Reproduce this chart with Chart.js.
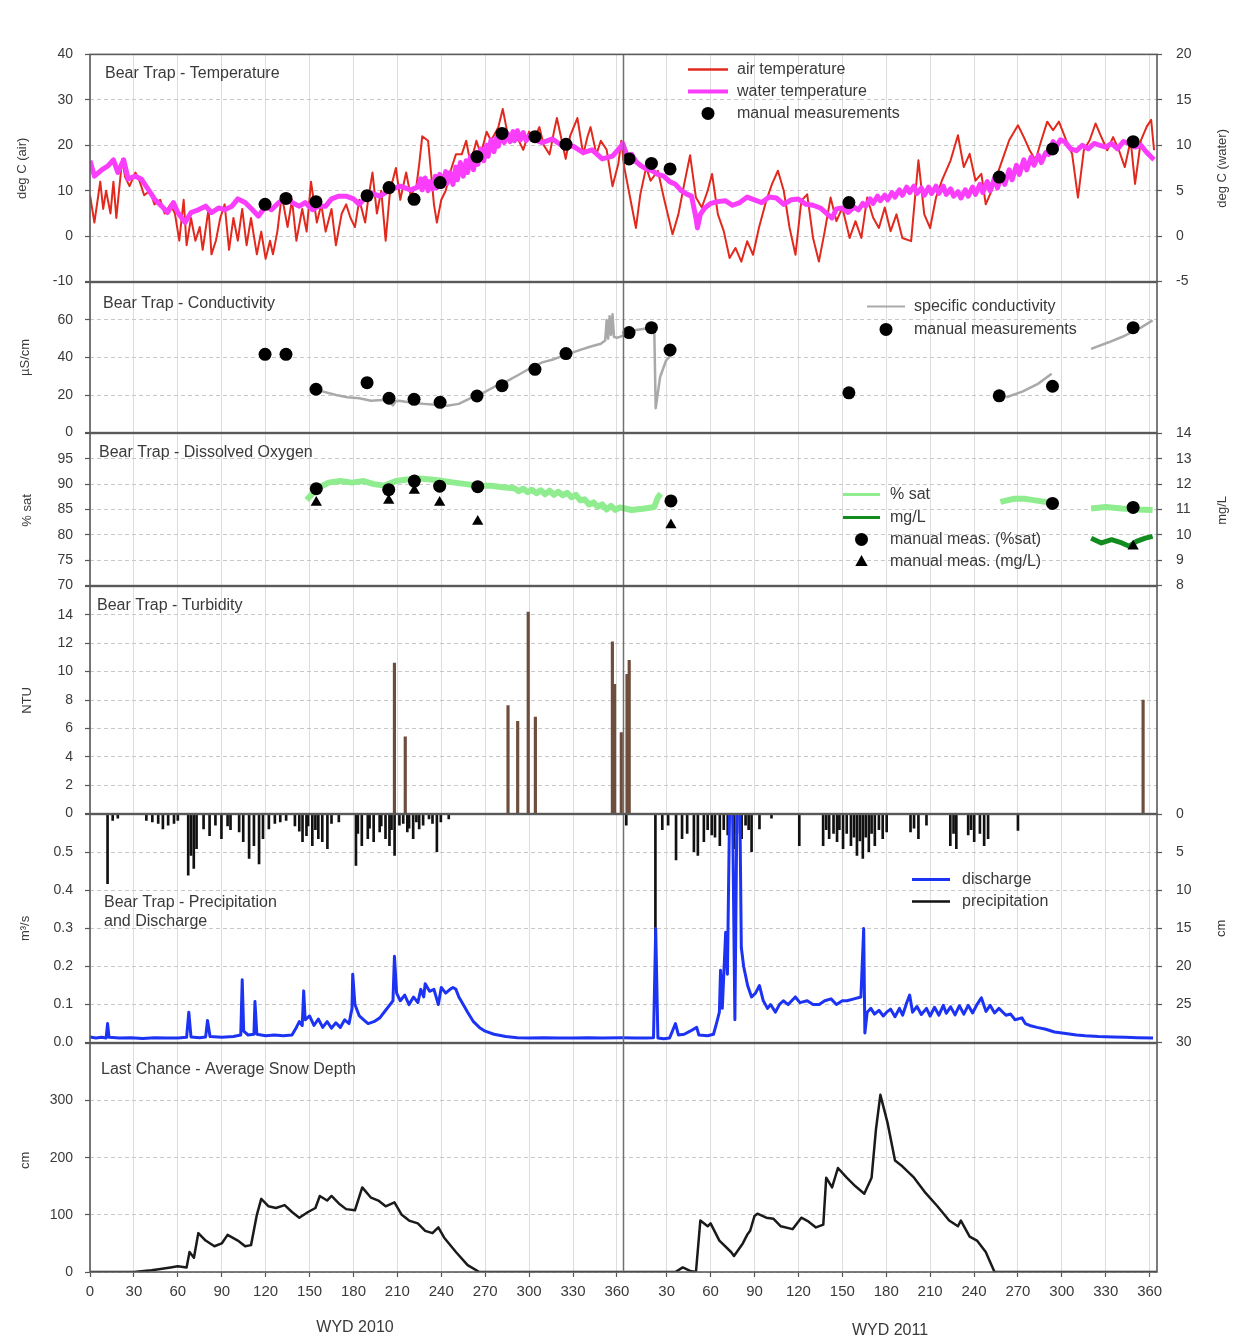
<!DOCTYPE html>
<html>
<head>
<meta charset="utf-8">
<title>Bear Trap / Last Chance – WYD 2010–2011</title>
<script src="https://cdn.jsdelivr.net/npm/chart.js@4.4.1/dist/chart.umd.min.js"></script>
<style>
  html, body { margin: 0; padding: 0; background: #fff; }
  #stack { position: relative; width: 1233px; height: 1340px; overflow: hidden; }
  #stack canvas { position: absolute; left: 0; }
</style>
</head>
<body>
<div id="stack"></div>
<script>
// ---------------------------------------------------------------------------
// Shared time axis: water-year day, two water years laid end to end.
// ---------------------------------------------------------------------------
const YEAR2_START = 364;          // axis position of day 0 of WYD 2011
const AXIS_END = 729;
const dayTicks2010 = [0, 30, 60, 90, 120, 150, 180, 210, 240, 270, 300, 330, 360];
const dayTicks2011 = [30, 60, 90, 120, 150, 180, 210, 240, 270, 300, 330, 360];
const yearCaptions = ['WYD 2010', 'WYD 2011'];

// ---------------------------------------------------------------------------
// Bear Trap – temperature  ([water-year day, °C])
// ---------------------------------------------------------------------------
const airTemp2010 = [[0,9],[3,3],[7,12],[9,6],[11,10],[14,5],[16,12],[18,4],[22,17],[24,13],[27,11],[31,14],[34,12],[37,9],[41,10],[44,7],[48,8],[51,5],[55,7],[58,5],[61,-1],[64,8],[66,-2],[69,4],[72,-1],[75,2],[77,-3],[81,6],[83,-4],[86,-1],[89,4],[92,7],[95,-3],[98,4],[101,-1],[104,6],[107,-2],[110,4],[114,-4],[117,1],[120,-5],[123,-1],[125,-4],[128,1],[131,9],[135,2],[138,8],[141,-1],[145,6],[148,1],[151,12],[155,3],[158,7],[161,1],[165,6],[168,-2],[172,5],[175,7],[178,4],[181,2],[184,8],[188,3],[190,8],[193,14],[196,5],[199,10],[202,-1],[205,10],[209,15],[212,8],[216,14],[219,9],[223,11],[225,16],[227,22],[231,21],[233,14],[235,7],[237,3],[240,8],[243,10],[247,15],[250,18],[254,18],[257,21],[260,16],[264,21],[267,18],[271,23],[274,21],[279,24],[282,28],[285,23],[288,22],[293,21],[296,19],[300,23],[303,21],[307,24],[310,20],[314,18],[317,23],[319,26],[323,20],[325,17],[328,22],[333,26],[337,18],[340,22],[342,24],[346,18],[349,21],[353,19],[357,11],[361,16],[363,21]];
const airTemp2011 = [[1,15.2],[5,8.5],[9,1.8],[12,9.2],[16,15.2],[19,12.2],[24,14.4],[28,8.5],[34,0.4],[38,4.8],[42,11.5],[46,17.8],[50,8.5],[54,6.3],[58,10],[61,13.7],[65,4.8],[69,1.1],[73,-4.8],[77,-2.6],[81,-5.6],[85,-1.1],[89,-4.1],[93,1.8],[98,7.8],[102,11.5],[106,14.4],[110,10],[114,1.8],[118,-4.1],[122,7.8],[126,9.2],[130,-0.4],[134,-5.6],[138,1.1],[142,8.5],[146,3.3],[150,6.3],[155,-0.4],[159,3.3],[163,-0.4],[167,8.5],[171,4.1],[175,1.8],[179,6.3],[183,1.1],[187,4.8],[191,-0.4],[197,-1.1],[202,16.7],[206,4.8],[210,1.8],[214,8.5],[218,12.2],[224,16.7],[229,22.2],[233,15.2],[237,18.1],[241,12.2],[245,13.7],[248,7],[252,10],[256,13.7],[260,17.4],[264,21.1],[270,24.4],[274,21.8],[278,18.9],[282,16.7],[286,21.1],[290,25.2],[294,23.3],[298,25.2],[303,21.1],[307,18.1],[311,8.5],[315,18.9],[319,21.1],[323,24.8],[327,21.8],[331,18.9],[335,21.8],[339,18.9],[343,15.2],[347,21.1],[350,11.5],[354,21.1],[358,24.1],[361,25.6],[363,18.9]];
const waterTemp2010 = [[0,8.3],[3,6.6],[8,7.3],[12,7.7],[16,8.4],[19,7],[23,8.4],[26,6.3],[31,6.6],[35,6.3],[40,5.1],[44,4.1],[49,3.3],[53,2.6],[57,3.7],[60,2.6],[65,1.5],[69,2.6],[74,2.9],[79,3.3],[83,2.6],[88,3.1],[92,2.9],[97,3.3],[101,4.1],[106,3.7],[111,2.9],[115,2.2],[120,3.3],[124,2.9],[129,3.7],[133,4.1],[138,3.7],[143,3.3],[147,3.7],[152,2.9],[156,3.3],[161,3.3],[165,4.1],[170,4.4],[175,4.4],[180,4.1],[184,3.5],[191,4.8],[198,4.4],[205,5.1],[212,5.5],[219,5.1],[224,5.4],[226,6.3],[227,5.1],[229,6.4],[231,5.0],[232,6.0],[234,5.2],[236,6.6],[237,5.3],[239,6.8],[241,5.5],[243,7.1],[244,5.8],[246,7.0],[248,5.7],[250,7.6],[251,6.2],[253,8.1],[255,6.6],[257,8.3],[258,7.0],[260,8.8],[262,7.3],[264,9.2],[265,7.9],[267,9.6],[269,8.3],[271,10.0],[272,8.8],[274,10.6],[276,9.3],[278,10.9],[279,9.9],[281,11.4],[283,10.3],[285,11.3],[287,10.4],[289,11.5],[290,10.5],[292,11.6],[294,10.6],[296,11.4],[298,10.5],[300,11.0],[302,10.7],[309,10.3],[316,10.7],[323,9.9],[330,9.9],[337,9.2],[343,9.5],[350,8.5],[357,8.8],[363,9.9]];
const waterTemp2011 = [[0,10.2],[3,8.8],[6,9.0],[9,8.2],[12,7.8],[16,7.4],[20,7.2],[24,6.8],[28,6.6],[32,6.0],[36,5.7],[40,5.0],[44,4.6],[47,4.4],[50,2.0],[51,0.9],[53,2.4],[56,3.1],[60,3.6],[65,3.8],[70,3.9],[75,3.4],[80,3.7],[85,4.3],[90,4.0],[95,3.7],[100,4.3],[105,4.2],[110,3.5],[115,4.0],[120,4.1],[125,3.5],[130,3.4],[135,3.1],[140,2.4],[143,2.0],[146,3.0],[150,3.1],[154,2.6],[158,3.2],[161,2.9],[164,3.6],[166,3.3],[169,4.1],[171,3.6],[174,4.4],[176,3.9],[179,4.5],[181,4.0],[184,4.8],[186,4.3],[189,5.1],[191,4.5],[194,5.4],[196,4.8],[199,5.5],[201,4.7],[204,5.3],[206,4.5],[209,5.4],[211,4.7],[214,5.5],[216,4.7],[219,5.5],[221,4.6],[224,5.2],[226,4.4],[229,4.9],[231,4.2],[234,5.1],[236,4.4],[239,5.4],[241,4.6],[244,5.7],[246,4.8],[249,6.0],[251,5.0],[254,6.4],[256,5.3],[259,6.8],[261,5.7],[264,7.3],[266,6.2],[269,7.8],[271,6.8],[274,8.4],[276,7.3],[279,8.7],[281,7.8],[284,8.9],[286,8.1],[289,9.2],[291,9.0],[294,10.4],[296,9.8],[299,10.6],[302,10.4],[306,9.6],[310,9.4],[314,10.0],[318,9.6],[322,10.2],[326,10.0],[330,9.8],[334,10.2],[338,9.6],[342,10.4],[346,10.2],[350,9.8],[354,10.0],[358,9.2],[363,8.4]];
const manualTemp2010 = [[119.6,3.5],[133.9,4.15],[154.4,3.8],[189.3,4.45],[204.3,5.35],[221.4,4.05],[239.2,5.9],[264.4,8.75],[281.5,11.3],[304,10.95],[325.2,10.1]];
const manualTemp2011 = [[4.3,8.5],[19.6,8.0],[32.3,7.4],[154.5,3.7],[257.2,6.5],[293.6,9.6],[348.7,10.4]];

// ---------------------------------------------------------------------------
// Bear Trap – specific conductivity (µS/cm); null marks a gap in the record
// ---------------------------------------------------------------------------
const conductivity2010 = [[152,23.5],[160,21.7],[168,20],[176,18.8],[184,18.3],[192,17],[200,17.4],[205,16],[207,14.5],[209,16.8],[211,17],[219,16],[228,15.3],[236,14.8],[244,14.3],[252,15.3],[260,18.3],[268,20.9],[276,24.3],[284,27],[292,30.4],[301,34.4],[309,37.4],[317,39.1],[325,41.4],[333,43.5],[341,45.6],[349,47.3],[352,49],[353,60],[354,50],[355,62],[356,52],[357,63],[358,51],[360,50.5],[362,51]];
const conductivity2011 = [[0,51.6],[6,54.2],[17,55.6],[21.5,55.9],[22.5,13],[25.5,29.6],[29.6,38.4],[33.7,41.9],[34,null],[262,18.8],[273,21.8],[284,26.1],[293,31.4],[294,null],[320,44.6],[332,48.1],[343,51.6],[354,55.9],[362,59.8]];
const manualCond2010 = [[119.6,41.7],[133.9,41.7],[154.4,23.1],[189.3,26.6],[204.3,18.3],[221.4,17.7],[239.2,16.1],[264.4,19.5],[281.5,25],[304,33.7],[325.2,42.1]];
const manualCond2011 = [[4.3,53.3],[19.6,55.9],[32.3,44.0],[154.5,21.2],[257.2,19.6],[293.6,24.7],[348.7,55.9]];

// ---------------------------------------------------------------------------
// Bear Trap – dissolved oxygen (% saturation and mg/L)
// ---------------------------------------------------------------------------
const doSat2010 = [[148,86.9],[152,88.1],[157,89.4],[163,90.3],[171,90.6],[179,90.3],[187,90.6],[194,90],[201,89.7],[209,90.6],[217,90.9],[225,91.1],[233,90.9],[241,90.6],[249,90.3],[257,90],[265,89.7],[274,89.7],[282,89.4],[290,89.2],[293,88.6],[296,89.1],[299,88.4],[302,88.9],[305,88.2],[308,88.8],[311,88.0],[314,88.7],[317,87.9],[320,88.5],[323,87.8],[326,88.3],[329,87.4],[332,87.9],[335,86.8],[338,87.0],[341,86.0],[344,86.4],[347,85.5],[350,86.0],[353,85.0],[356,85.7],[359,84.9],[362,85.4]];
const doSat2011 = [[0,85.3],[6,84.9],[15,85.2],[21.5,85.5],[24,87.4],[26,88.1],[27,null],[258,86.5],[267,87.1],[275,87.1],[284,86.7],[293,86.3],[294,null],[320,85.2],[330,85.5],[341,85.2],[351,85],[362,84.9]];
const doMgL2011 = [[320,9.87],[327,9.68],[334,9.81],[341,9.68],[346,9.55],[351,9.74],[357,9.87],[362,9.94]];
const manualSat2010 = [[154.6,89.1],[204.1,88.9],[221.6,90.6],[238.9,89.6],[264.9,89.5]];
const manualSat2011 = [[32.9,86.7],[293.6,86.2],[348.7,85.4]];
const manualMgL2010 = [[154.6,11.28],[204.1,11.35],[221.6,11.75],[238.9,11.28],[264.9,10.53]];
const manualMgL2011 = [[32.9,10.39],[348.7,9.55]];

// ---------------------------------------------------------------------------
// Bear Trap – turbidity (NTU)
// ---------------------------------------------------------------------------
const turbidity2010 = [[208,10.6],[215.4,5.4],[285.6,7.6],[292.2,6.5],[299.4,14.2],[304.3,6.8],[356.9,12.1],[358.4,9.1],[363,5.7]];
const turbidity2011 = [[2.9,9.8],[4.4,10.8],[355.5,8.0]];

// ---------------------------------------------------------------------------
// Bear Trap – discharge (m³/s) and precipitation (cm)
// ---------------------------------------------------------------------------
const discharge2010 = [[0,0.015],[4,0.012],[8,0.014],[11,0.012],[12,0.05],[13,0.014],[20,0.012],[28,0.013],[36,0.011],[44,0.013],[52,0.012],[60,0.012],[66,0.014],[67.5,0.08],[69,0.015],[75,0.013],[79,0.015],[80.3,0.058],[82,0.016],[90,0.014],[98,0.016],[103,0.02],[104,0.165],[105,0.03],[108,0.02],[112,0.022],[112.7,0.108],[114,0.022],[120,0.018],[126,0.02],[132,0.018],[138,0.02],[141,0.04],[143,0.055],[145,0.045],[146,0.136],[147,0.06],[150,0.07],[153,0.045],[156,0.062],[159,0.04],[162,0.055],[165,0.038],[168,0.052],[171,0.04],[174,0.06],[177,0.05],[179,0.09],[179.5,0.18],[181,0.1],[184,0.07],[187,0.06],[190,0.05],[194,0.055],[198,0.065],[202,0.085],[205,0.1],[207,0.11],[208,0.227],[209.5,0.13],[212,0.11],[215,0.125],[218,0.1],[221,0.12],[224,0.105],[226,0.14],[228,0.12],[229,0.155],[232,0.135],[235,0.14],[238,0.1],[240,0.145],[243,0.13],[246,0.14],[248,0.145],[250,0.14],[252,0.12],[255,0.1],[258,0.08],[262,0.055],[266,0.04],[270,0.03],[276,0.022],[284,0.016],[292,0.013],[300,0.012],[310,0.013],[320,0.012],[330,0.012],[340,0.013],[350,0.012],[363,0.013]];
const discharge2011 = [[0,0.013],[8,0.012],[16,0.012],[21,0.013],[22.5,0.30],[24,0.012],[28,0.01],[32,0.012],[36,0.05],[38,0.02],[42,0.022],[46,0.03],[50.5,0.04],[52,0.02],[58,0.018],[62,0.022],[64,0.05],[66,0.08],[66.8,0.19],[68,0.09],[70.3,0.29],[71.5,0.18],[73,0.62],[75,0.62],[76.6,0.06],[78,0.62],[80,0.62],[81,0.25],[82.6,0.2],[85.3,0.15],[88,0.12],[90.7,0.13],[93.4,0.15],[96,0.11],[98.9,0.09],[101,0.1],[104.3,0.08],[107,0.1],[109.7,0.11],[113,0.1],[117.9,0.12],[121,0.105],[126,0.11],[130,0.1],[134.2,0.1],[138,0.11],[142.3,0.115],[146,0.1],[150,0.11],[153.2,0.11],[158,0.115],[162.7,0.12],[164.6,0.30],[165.4,0.025],[167,0.08],[169.5,0.09],[172,0.075],[175,0.085],[178,0.07],[180.3,0.08],[183,0.088],[186,0.068],[189,0.09],[191.2,0.072],[194,0.105],[196,0.125],[198,0.08],[201,0.095],[204,0.074],[207.5,0.09],[210,0.07],[213,0.093],[216,0.072],[219,0.098],[221,0.077],[224,0.094],[227,0.073],[230,0.097],[233,0.075],[236,0.098],[239,0.078],[242,0.1],[245,0.118],[248.2,0.082],[251,0.098],[254,0.078],[257,0.09],[261.8,0.072],[265,0.075],[268,0.06],[272.7,0.065],[275,0.05],[278,0.045],[283,0.04],[289,0.035],[295,0.028],[302.6,0.024],[310,0.02],[316,0.018],[325,0.016],[335,0.015],[343.3,0.014],[352,0.013],[362.3,0.012]];
const precip2010 = [[12,9.1],[15.5,0.8],[19,0.5],[38.5,0.8],[42.6,1.0],[46.6,1.2],[49.8,1.9],[53.4,1.4],[57.4,1.2],[60,0.8],[67.1,8.0],[69,5.4],[70.9,7.1],[72.8,4.5],[77.6,1.9],[81.7,2.8],[85.7,1.4],[89.8,3.2],[94,1.5],[96,2.0],[101.9,2.3],[104.7,3.6],[108.7,5.8],[112,4.1],[115.5,6.5],[118.2,3.2],[122.2,1.9],[126.3,1.2],[130,1.0],[134,0.8],[140,1.5],[143,2.2],[145.2,3.6],[147.9,2.8],[149,1.5],[151.9,4.1],[154,2.0],[156,3.2],[158.7,3.6],[162.2,4.5],[165,1.2],[170,1.0],[181.7,6.7],[183,2.5],[185.7,4.1],[189.8,3.2],[191,1.8],[193.8,3.6],[197.9,2.3],[199,1.5],[201.9,3.2],[204.6,4.1],[206,2.0],[208.1,5.4],[211.4,1.4],[214,1.2],[216.8,2.3],[218,1.8],[220.8,3.2],[223,1.0],[224.9,1.9],[227.6,1.4],[231.6,0.6],[234,1.2],[237,4.9],[239.7,1.0],[245.1,0.6]];
const precip2011 = [[2.4,1.4],[22.3,16.1],[27,2.0],[31,1.4],[36.4,6.0],[40.5,3.2],[44,2.5],[48.6,4.9],[51.3,5.4],[55.4,3.6],[58,2.0],[60.8,2.7],[63,3.0],[66.3,4.1],[69,2.0],[71.7,2.7],[75.8,4.5],[78,2.5],[81.2,3.2],[83.9,1.4],[86,2.0],[88,4.9],[93.4,1.9],[101.6,0.5],[120.6,4.1],[136.9,4.1],[139,2.0],[141,3.2],[144,2.5],[146.4,3.6],[148,2.0],[150.5,4.5],[153,2.5],[155.9,4.1],[158,3.0],[160,5.4],[162,3.5],[164,5.8],[166,3.0],[168.1,4.9],[170,2.5],[172.2,4.1],[175,2.0],[177.6,3.2],[180.3,2.3],[196.6,2.3],[199,1.8],[202,3.2],[207.5,1.4],[223.8,4.1],[226,2.5],[227.9,4.5],[236,2.7],[238,2.0],[240.1,3.6],[244,2.5],[246.9,4.1],[249.6,3.2],[270,2.1]];

// ---------------------------------------------------------------------------
// Last Chance – average snow depth (cm)
// ---------------------------------------------------------------------------
const snow2010 = [[0,0],[30,0],[42,3],[47,5],[55,8],[60,10],[66,8],[68,35],[71,25],[74,68],[79,55],[85,45],[90,50],[94,65],[101,55],[106,45],[110,47],[114,100],[117,128],[122,115],[127,112],[133,117],[138,105],[143,95],[149,105],[154,112],[157,133],[162,125],[165,133],[170,120],[175,110],[181,108],[186,148],[192,130],[197,125],[202,115],[208,122],[213,100],[218,90],[224,85],[229,72],[234,68],[238,78],[242,60],[250,35],[258,12],[266,0],[363,0]];
const snow2011 = [[0,0],[36,0],[41,8],[46,2],[50,0],[53,90],[58,80],[60,85],[66,55],[74,35],[76,28],[82,50],[85,65],[87,72],[90,98],[92,102],[98,95],[103,93],[108,80],[116,75],[122,95],[127,88],[132,78],[137,83],[139,165],[143,148],[147,182],[153,165],[159,150],[165,137],[170,165],[173,250],[176,310],[181,260],[186,195],[191,185],[199,165],[207,138],[215,115],[223,90],[229,80],[231,90],[237,62],[242,55],[248,35],[254,0],[365,0]];

// ---------------------------------------------------------------------------
// Page layout and styling
// ---------------------------------------------------------------------------
const PAGE_W = 1233;
const PLOT_LEFT = 90;
const PLOT_RIGHT = 1157;
const PAD = 12;
const FONT = '"Liberation Sans", Arial, Helvetica, sans-serif';
const TEXT = '#3a3a3a';

Chart.defaults.font.family = FONT;
Chart.defaults.font.size = 14;
Chart.defaults.color = TEXT;

const C = {
  air: '#e2291d', water: '#fa3dfa', cond: '#a9a9a9',
  sat: '#8fec8f', mgl: '#138c1f', turb: '#6e4d3d',
  flow: '#1d33f4', precip: '#111111', snow: '#1a1a1a', manual: '#000000'
};

function series(y2010, y2011) {
  const out = [];
  (y2010 || []).forEach(([d, v]) => out.push({ x: d, y: v }));
  (y2011 || []).forEach(([d, v]) => out.push({ x: d + YEAR2_START, y: v }));
  return out;
}

const xTickValues = dayTicks2010.concat(dayTicks2011.map(d => d + YEAR2_START));

function xAxis(showLabels, height) {
  return {
    type: 'linear', min: 0, max: AXIS_END, offset: false,
    afterBuildTicks: s => { s.ticks = xTickValues.map(v => ({ value: v })); },
    afterFit: s => { s.height = height; },
    grid: { color: '#dddddd', lineWidth: 1, offset: false, drawTicks: showLabels,
            tickLength: 5, tickColor: '#555', tickWidth: 1.2 },
    border: { display: false },
    ticks: { display: showLabels, autoSkip: false, maxRotation: 0, padding: 6,
             font: { size: 15 }, color: TEXT,
             callback: v => (v >= YEAR2_START ? v - YEAR2_START : v) }
  };
}

function yAxis(o) {
  const left = o.position === 'left';
  return {
    type: 'linear', position: o.position, min: o.min, max: o.max, reverse: !!o.reverse,
    afterFit: s => { s.width = left ? PLOT_LEFT : PAGE_W - PLOT_RIGHT; },
    ticks: {
      stepSize: o.step, autoSkip: false, padding: left ? 12 : 14,
      font: { size: 14 }, color: TEXT,
      callback: v => {
        if (o.hideTop && Math.abs(v - o.max) < 1e-9) return '';
        return o.decimals ? v.toFixed(o.decimals) : String(v);
      }
    },
    grid: { drawOnChartArea: left, color: '#c8c8c8', lineWidth: 1,
            tickLength: 5, tickColor: '#555', tickWidth: 1.2 },
    border: { display: false, dash: [4, 3] }
  };
}

// Frame, year divider, captions and keys for one panel.
function panelDecor(spec, place) {
  const Y = y => y - place.top;
  function text(ctx, t) {
    ctx.save();
    ctx.font = `${t.size || 16}px ${FONT}`;
    ctx.fillStyle = TEXT;
    ctx.textBaseline = 'middle';
    ctx.textAlign = t.align || 'left';
    ctx.translate(t.x, Y(t.y));
    if (t.rotate) ctx.rotate(-Math.PI / 2);
    ctx.fillText(t.text, 0, 0);
    ctx.restore();
  }
  function key(ctx, k) {
    const y = Y(k.y);
    ctx.save();
    if (k.line) {
      ctx.strokeStyle = k.line; ctx.lineWidth = k.width || 2.5;
      ctx.beginPath(); ctx.moveTo(k.x1, y); ctx.lineTo(k.x2, y); ctx.stroke();
    }
    if (k.marker) {
      const cx = (k.x1 + k.x2) / 2, r = 6.5;
      ctx.fillStyle = '#000';
      ctx.beginPath();
      if (k.marker === 'circle') {
        ctx.arc(cx, y, r, 0, Math.PI * 2);
      } else {
        ctx.moveTo(cx, y - r); ctx.lineTo(cx + r * 0.95, y + r * 0.7); ctx.lineTo(cx - r * 0.95, y + r * 0.7); ctx.closePath();
      }
      ctx.fill();
    }
    ctx.restore();
    text(ctx, { text: k.label, x: k.tx, y: k.y, size: 16 });
  }
  return {
    id: 'panelDecor',
    afterDatasetsDraw(chart) {
      const { ctx, chartArea: a, scales } = chart;
      ctx.save();
      const xb = Math.round(scales.x.getPixelForValue(YEAR2_START)) + 0.5;
      ctx.strokeStyle = '#707070'; ctx.lineWidth = 1.5;
      ctx.beginPath(); ctx.moveTo(xb, a.top); ctx.lineTo(xb, a.bottom); ctx.stroke();
      ctx.strokeStyle = '#5a5a5a'; ctx.lineWidth = 1.6;
      ctx.strokeRect(a.left, a.top, a.right - a.left, a.bottom - a.top);
      ctx.restore();
      (spec.texts || []).forEach(t => text(ctx, t));
      (spec.keys || []).forEach(k => key(ctx, k));
    }
  };
}

function makePanel(p) {
  const padBottom = p.last ? 68 : PAD;
  const xAxisH = p.last ? 34 : 0;
  const place = { top: p.top - PAD };
  let h = (p.bottom - p.top) + PAD + padBottom;
  const cv = document.createElement('canvas');
  document.getElementById('stack').appendChild(cv);

  const config = () => {
    const scales = { x: xAxis(!!p.last, xAxisH), yL: yAxis(Object.assign({ position: 'left' }, p.yL)) };
    if (p.yR) scales.yR = yAxis(Object.assign({ position: 'right' }, p.yR));
    return {
      type: 'line',
      data: { datasets: p.datasets },
      options: {
        responsive: false, maintainAspectRatio: false, animation: false, events: [],
        layout: { padding: { top: PAD, bottom: padBottom - xAxisH, left: 0,
                             right: p.yR ? 0 : PAGE_W - PLOT_RIGHT } },
        scales,
        elements: { point: { radius: 0 }, line: { tension: 0 } },
        plugins: { legend: { display: false }, tooltip: { enabled: false } }
      },
      plugins: [panelDecor(p.deco, place)]
    };
  };
  const build = () => {
    cv.width = PAGE_W; cv.height = h;
    cv.style.width = PAGE_W + 'px'; cv.style.height = h + 'px';
    cv.style.top = place.top + 'px';
    return new Chart(cv.getContext('2d'), config());
  };

  // First pass: measure where the library put the plot area, then size the
  // canvas so the plot area spans exactly the panel's band on the page.
  let chart = build();
  const ca = chart.chartArea;
  const grow = (p.bottom - p.top) - (ca.bottom - ca.top);
  const shift = ca.top;
  chart.destroy();
  h += grow;
  place.top = p.top - shift;
  chart = build();
}

function lineSet(data, axis, color, width, extra) {
  return Object.assign({ type: 'line', data, yAxisID: axis, borderColor: color,
    backgroundColor: color, borderWidth: width, pointRadius: 0, fill: false,
    spanGaps: false, borderJoinStyle: 'round' }, extra || {});
}
function markerSet(data, axis, style) {
  return { type: 'line', data, yAxisID: axis, showLine: false, pointStyle: style,
    pointRadius: 6.5, pointBackgroundColor: C.manual, pointBorderColor: C.manual, pointBorderWidth: 0 };
}
function barSet(data, axis, color, thickness) {
  return { type: 'bar', data, yAxisID: axis, backgroundColor: color, borderWidth: 0,
    barThickness: thickness, grouped: false };
}

// 1 – temperature
makePanel({
  top: 54, bottom: 282,
  yL: { min: -10, max: 40, step: 10 },
  yR: { min: -5, max: 20, step: 5 },
  datasets: [
    markerSet(series(manualTemp2010, manualTemp2011), 'yR', 'circle'),
    lineSet(series(waterTemp2010, waterTemp2011), 'yR', C.water, 5),
    lineSet(series(airTemp2010, airTemp2011), 'yL', C.air, 2)
  ],
  deco: {
    texts: [
      { text: 'Bear Trap - Temperature', x: 105, y: 73 },
      { text: 'deg C (air)', x: 22, y: 168, rotate: true, size: 13, align: 'center' },
      { text: 'deg C (water)', x: 1222, y: 168, rotate: true, size: 13, align: 'center' }
    ],
    keys: [
      { line: C.air, width: 2.5, x1: 688, x2: 728, y: 69, tx: 737, label: 'air temperature' },
      { line: C.water, width: 4, x1: 688, x2: 728, y: 91, tx: 737, label: 'water temperature' },
      { marker: 'circle', x1: 688, x2: 728, y: 113, tx: 737, label: 'manual measurements' }
    ]
  }
});

// 2 – conductivity
makePanel({
  top: 282, bottom: 433,
  yL: { min: 0, max: 80, step: 20, hideTop: true },
  datasets: [
    markerSet(series(manualCond2010, manualCond2011), 'yL', 'circle'),
    lineSet(series(conductivity2010, conductivity2011), 'yL', C.cond, 2.5)
  ],
  deco: {
    texts: [
      { text: 'Bear Trap - Conductivity', x: 103, y: 303 },
      { text: 'µS/cm', x: 25, y: 357, rotate: true, size: 13, align: 'center' }
    ],
    keys: [
      { line: C.cond, width: 2, x1: 867, x2: 905, y: 306, tx: 914, label: 'specific conductivity' },
      { marker: 'circle', x1: 867, x2: 905, y: 329, tx: 914, label: 'manual measurements' }
    ]
  }
});

// 3 – dissolved oxygen
makePanel({
  top: 433, bottom: 586,
  yL: { min: 70, max: 100, step: 5, hideTop: true },
  yR: { min: 8, max: 14, step: 1 },
  datasets: [
    markerSet(series(manualSat2010, manualSat2011), 'yL', 'circle'),
    markerSet(series(manualMgL2010, manualMgL2011), 'yR', 'triangle'),
    lineSet(series([], doMgL2011), 'yR', C.mgl, 5),
    lineSet(series(doSat2010, doSat2011), 'yL', C.sat, 6)
  ],
  deco: {
    texts: [
      { text: 'Bear Trap - Dissolved Oxygen', x: 99, y: 452 },
      { text: '% sat', x: 27, y: 510, rotate: true, size: 13, align: 'center' },
      { text: 'mg/L', x: 1222, y: 510, rotate: true, size: 13, align: 'center' }
    ],
    keys: [
      { line: C.sat, width: 3, x1: 843, x2: 880, y: 494, tx: 890, label: '% sat' },
      { line: C.mgl, width: 3, x1: 843, x2: 880, y: 517, tx: 890, label: 'mg/L' },
      { marker: 'circle', x1: 843, x2: 880, y: 539, tx: 890, label: 'manual meas. (%sat)' },
      { marker: 'triangle', x1: 843, x2: 880, y: 561, tx: 890, label: 'manual meas. (mg/L)' }
    ]
  }
});

// 4 – turbidity
makePanel({
  top: 586, bottom: 814,
  yL: { min: 0, max: 16, step: 2, hideTop: true },
  datasets: [ barSet(series(turbidity2010, turbidity2011), 'yL', C.turb, 2.5) ],
  deco: {
    texts: [
      { text: 'Bear Trap - Turbidity', x: 97, y: 605 },
      { text: 'NTU', x: 27, y: 700, rotate: true, size: 13, align: 'center' }
    ]
  }
});

// 5 – precipitation (hanging from the top, reversed axis) and discharge
makePanel({
  top: 814, bottom: 1043,
  yL: { min: 0, max: 0.6, step: 0.1, hideTop: true, decimals: 1 },
  yR: { min: 0, max: 30, step: 5, reverse: true },
  datasets: [
    lineSet(series(discharge2010, discharge2011), 'yL', C.flow, 3, { clip: 0 }),
    barSet(series(precip2010, precip2011), 'yR', C.precip, 2)
  ],
  deco: {
    texts: [
      { text: 'Bear Trap - Precipitation', x: 104, y: 902 },
      { text: 'and Discharge', x: 104, y: 921 },
      { text: 'm\u00b3/s', x: 25, y: 928, rotate: true, size: 13, align: 'center' },
      { text: 'cm', x: 1221, y: 928, rotate: true, size: 13, align: 'center' }
    ],
    keys: [
      { line: C.flow, width: 3, x1: 912, x2: 950, y: 879, tx: 962, label: 'discharge' },
      { line: C.precip, width: 2.5, x1: 912, x2: 950, y: 901, tx: 962, label: 'precipitation' }
    ]
  }
});

// 6 – snow depth, carries the shared day axis
makePanel({
  top: 1043, bottom: 1272, last: true,
  yL: { min: 0, max: 400, step: 100, hideTop: true },
  datasets: [ lineSet(series(snow2010, snow2011), 'yL', C.snow, 2.5) ],
  deco: {
    texts: [
      { text: 'Last Chance - Average Snow Depth', x: 101, y: 1069 },
      { text: 'cm', x: 25, y: 1160, rotate: true, size: 13, align: 'center' },
      { text: yearCaptions[0], x: 355, y: 1327, align: 'center', size: 16 },
      { text: yearCaptions[1], x: 890, y: 1330, align: 'center', size: 16 }
    ]
  }
});
</script>
</body>
</html>
